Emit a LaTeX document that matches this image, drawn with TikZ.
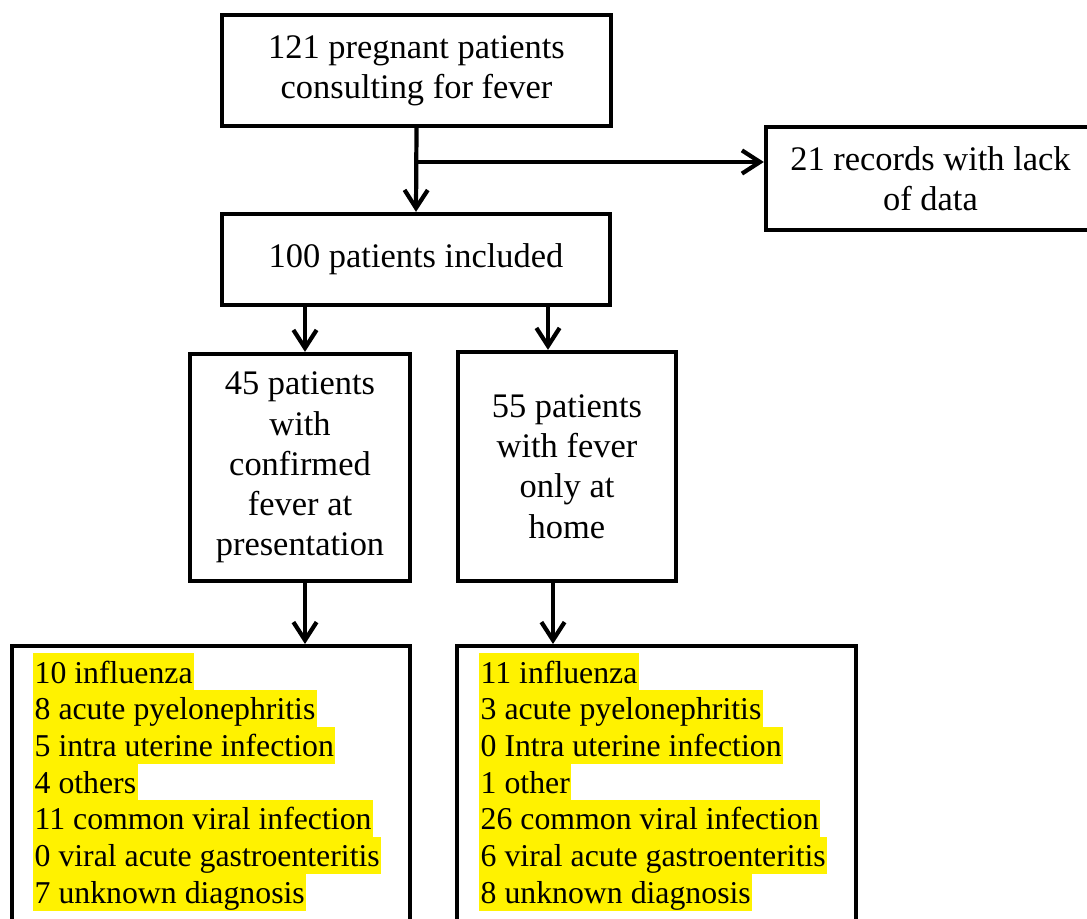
\documentclass[tikz,border=0pt]{standalone}
\usepackage{fontspec}
\setmainfont{Liberation Serif}
\usetikzlibrary{arrows.meta}

\begin{document}
\begin{tikzpicture}[x=0.025cm, y=-0.025cm,
    box/.style={draw, line width=3pt, align=center, inner sep=0pt, font={\fontsize{24.5}{28.6}\selectfont}},
    flow/.style={line width=3pt, -{Straight Barb[length=4.5mm, width=5.8mm]}},
    hl/.style={fill=yellow, anchor=west, inner xsep=1pt, inner ysep=0pt, text height=0.74cm, text depth=0.19cm, font={\fontsize{22.6}{26}\selectfont}}]
    \useasboundingbox (0,0) rectangle (1087,919);
    % flow boxes
    \node[box, minimum width=9.725cm, minimum height=2.775cm] (top) at (416.5,70.5) {121 pregnant patients\\consulting for fever};
    \node[box, minimum width=9.7cm, minimum height=2.275cm] (incl) at (416,259.5) {100 patients included};
    \node[box, minimum width=8.225cm, minimum height=2.575cm] (rec) at (930.5,178.5) {21 records with lack\\of data};
    \node[box, minimum width=5.5cm, minimum height=5.675cm] (conf) at (300,467.5) {45 patients\\with\\confirmed\\fever at\\presentation};
    \node[box, minimum width=5.45cm, minimum height=5.725cm] (home) at (567,466.5) {55 patients\\with fever\\only at\\home};
    \node[box, anchor=north, minimum width=9.95cm, minimum height=7.5cm] (diagL) at (211,644) {};
    \node[box, anchor=north, minimum width=9.975cm, minimum height=7.5cm] (diagR) at (656.5,644) {};
    % arrows
    \coordinate (split) at (top.south |- 0,162);
    \draw[flow] (top.south) -- (incl.north);
    \draw[flow] (split) -- (split -| rec.west);
    \draw[flow] (incl.south -| 305,0) -- (conf.north -| 305,0);
    \draw[flow] (incl.south -| 548,0) -- (home.north -| 548,0);
    \draw[flow] (conf.south -| 305,0) -- (diagL.north -| 305,0);
    \draw[flow] (home.south -| 553,0) -- (diagR.north -| 553,0);
    % diagnoses, left
    \foreach \a [count=\n] in {10 influenza,8 acute pyelonephritis,5 intra uterine infection,4 others,11 common viral infection,0 viral acute gastroenteritis,7 unknown diagnosis} {
      \node[hl] (dl\n) at (33,635.3+\n*36.7) {\a};
    }
    % diagnoses, right
    \foreach \a [count=\n] in {11 influenza,3 acute pyelonephritis,0 Intra uterine infection,1 other,26 common viral infection,6 viral acute gastroenteritis,8 unknown diagnosis} {
      \node[hl] (dr\n) at (479,635.3+\n*36.7) {\a};
    }
  \end{tikzpicture}
\end{document}
